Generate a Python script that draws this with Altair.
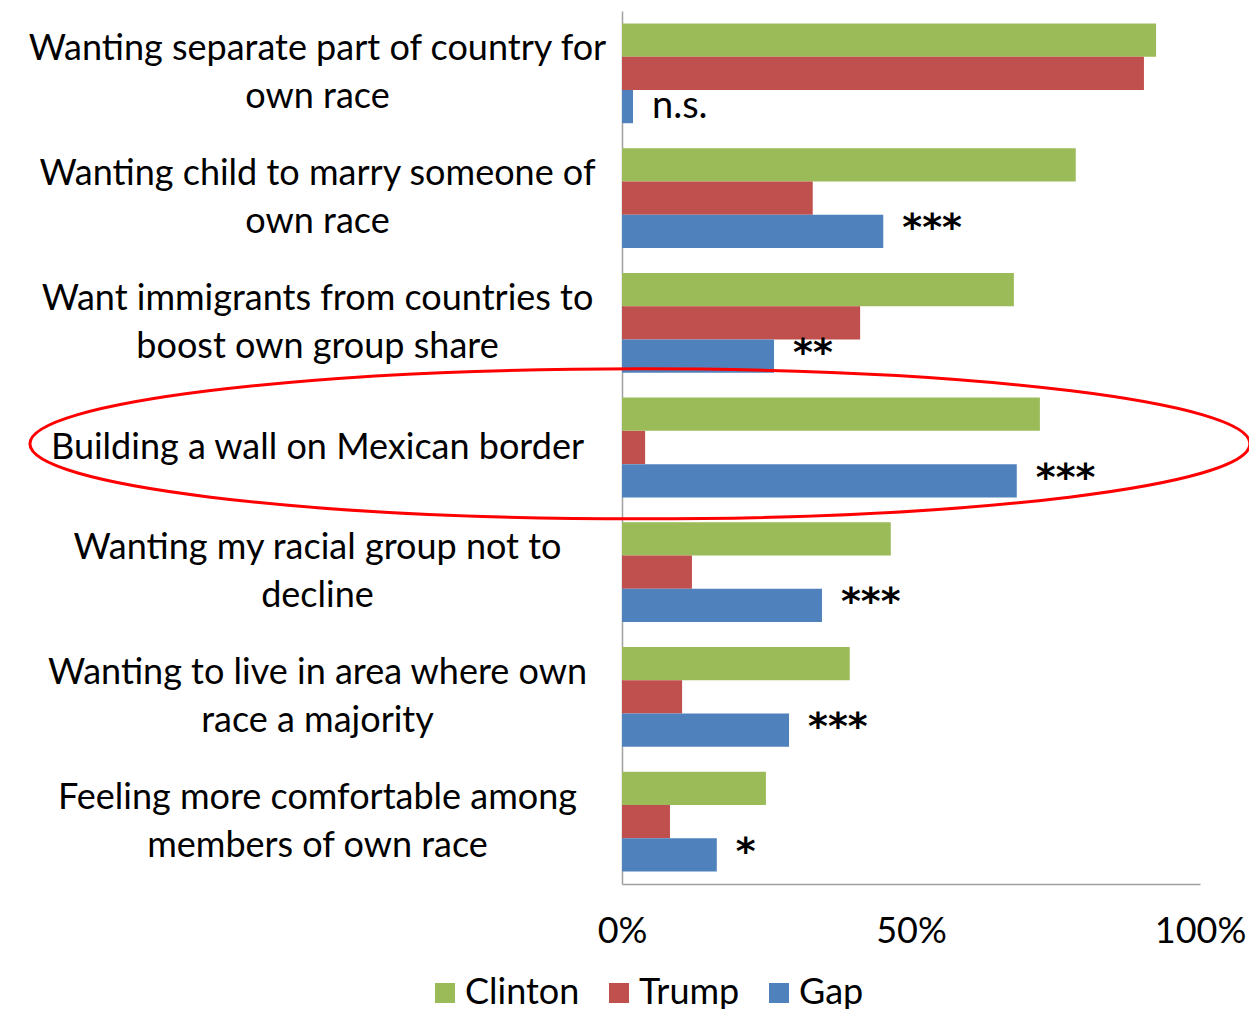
import altair as alt
import pandas as pd

categories = [
    "Wanting separate part of country for\nown race",
    "Wanting child to marry someone of\nown race",
    "Want immigrants from countries to\nboost own group share",
    "Building a wall on Mexican border",
    "Wanting my racial group not to\ndecline",
    "Wanting to live in area where own\nrace a majority",
    "Feeling more comfortable among\nmembers of own race",
]
series = ["Clinton", "Trump", "Gap"]
clinton = [0.924, 0.785, 0.678, 0.723, 0.465, 0.394, 0.249]
trump = [0.903, 0.330, 0.412, 0.040, 0.121, 0.104, 0.083]
gap = [0.019, 0.452, 0.263, 0.683, 0.346, 0.289, 0.164]
significance = ["n.s.", "***", "**", "***", "***", "***", "*"]
colors = ["#9BBB59", "#C0504D", "#4F81BD"]
highlight = ["Building a wall on Mexican border"]
highlight_x = [0.031]

rows = []
for i, c in enumerate(categories):
    for s, vals in zip(series, [clinton, trump, gap]):
        rows.append({"category": c, "series": s, "value": vals[i]})
bars_df = pd.DataFrame(rows)
sig_df = pd.DataFrame({"category": categories, "series": "Gap", "value": gap, "sig": significance})
ell_df = pd.DataFrame({"category": highlight, "value": highlight_x})

FONT = "Lato"
FS = 36

y_enc = alt.Y(
    "category:N",
    sort=categories,
    scale=alt.Scale(domain=categories, paddingInner=0.2, paddingOuter=0.1),
    axis=alt.Axis(
        title=None,
        labelExpr="split(datum.label, '\\n')",
        labelAlign="center",
        labelBaseline="middle",
        labelOffset={"condition": {"test": "indexof(datum.value, '\\n') >= 0", "value": -24}, "value": 0},
        labelPadding=305,
        labelFontSize=FS,
        labelLineHeight=48,
        labelLimit=2000,
        labelColor="#000000",
        labelFont=FONT,
        ticks=False,
        tickSize=0,
        domainColor="#A0A0A0",
        domainWidth=1.5,
    ),
)
x_enc = alt.X(
    "value:Q",
    scale=alt.Scale(domain=[0, 1], nice=False),
    axis=alt.Axis(
        title=None,
        values=[0, 0.5, 1],
        format="%",
        grid=False,
        ticks=False,
        tickSize=0,
        labelPadding=30,
        labelFontSize=FS,
        labelColor="#000000",
        labelFont=FONT,
        labelFlush=False,
        domainColor="#A0A0A0",
        domainWidth=1.5,
    ),
)
yoff = alt.YOffset("series:N", sort=series, scale=alt.Scale(domain=series))

bars = alt.Chart(bars_df).mark_bar().encode(
    y=y_enc,
    x=x_enc,
    yOffset=yoff,
    color=alt.Color(
        "series:N",
        sort=series,
        scale=alt.Scale(domain=series, range=colors),
        legend=alt.Legend(
            title=None,
            orient="none",
            direction="horizontal",
            legendX=-195,
            legendY=964,
            symbolType="square",
            symbolSize=400,
            symbolStrokeWidth=0,
            symbolOpacity=1,
            labelFontSize=FS,
            labelFont=FONT,
            labelColor="#000000",
            labelOffset=2,
            columnPadding=21,
        ),
    ),
)

sig_base = alt.Chart(sig_df).encode(
    y=alt.Y("category:N", sort=categories),
    x="value:Q",
    yOffset=yoff,
    text="sig:N",
)
sig_ns = sig_base.transform_filter("datum.sig == 'n.s.'").mark_text(
    align="left", baseline="middle", dx=19, fontSize=38, font=FONT, color="#000000"
)
sig_star = sig_base.transform_filter("datum.sig != 'n.s.'").mark_text(
    align="left", baseline="middle", dx=19, dy=-2, fontSize=38, font="DejaVu Sans",
    fontWeight="bold", color="#000000"
)

ellipse_path = "M -1 -0.006 A 1 0.123 0 1 1 1 -0.006 A 1 0.123 0 1 1 -1 -0.006 Z"
ell = alt.Chart(ell_df).mark_point(
    shape=ellipse_path, size=1220 * 1220, filled=False, color="#FF0000",
    strokeWidth=3, opacity=1,
).encode(
    y=alt.Y("category:N", sort=categories),
    x="value:Q",
)

chart = alt.layer(bars, sig_ns, sig_star, ell).properties(
    width=578,
    height=873,
    padding={"left": 614, "top": 3, "right": 49, "bottom": 125},
    autosize=alt.AutoSizeParams(type="none"),
).configure(font=FONT).configure_view(stroke=None)

chart.save("out.html", embed_options={"renderer": "svg", "actions": False})
